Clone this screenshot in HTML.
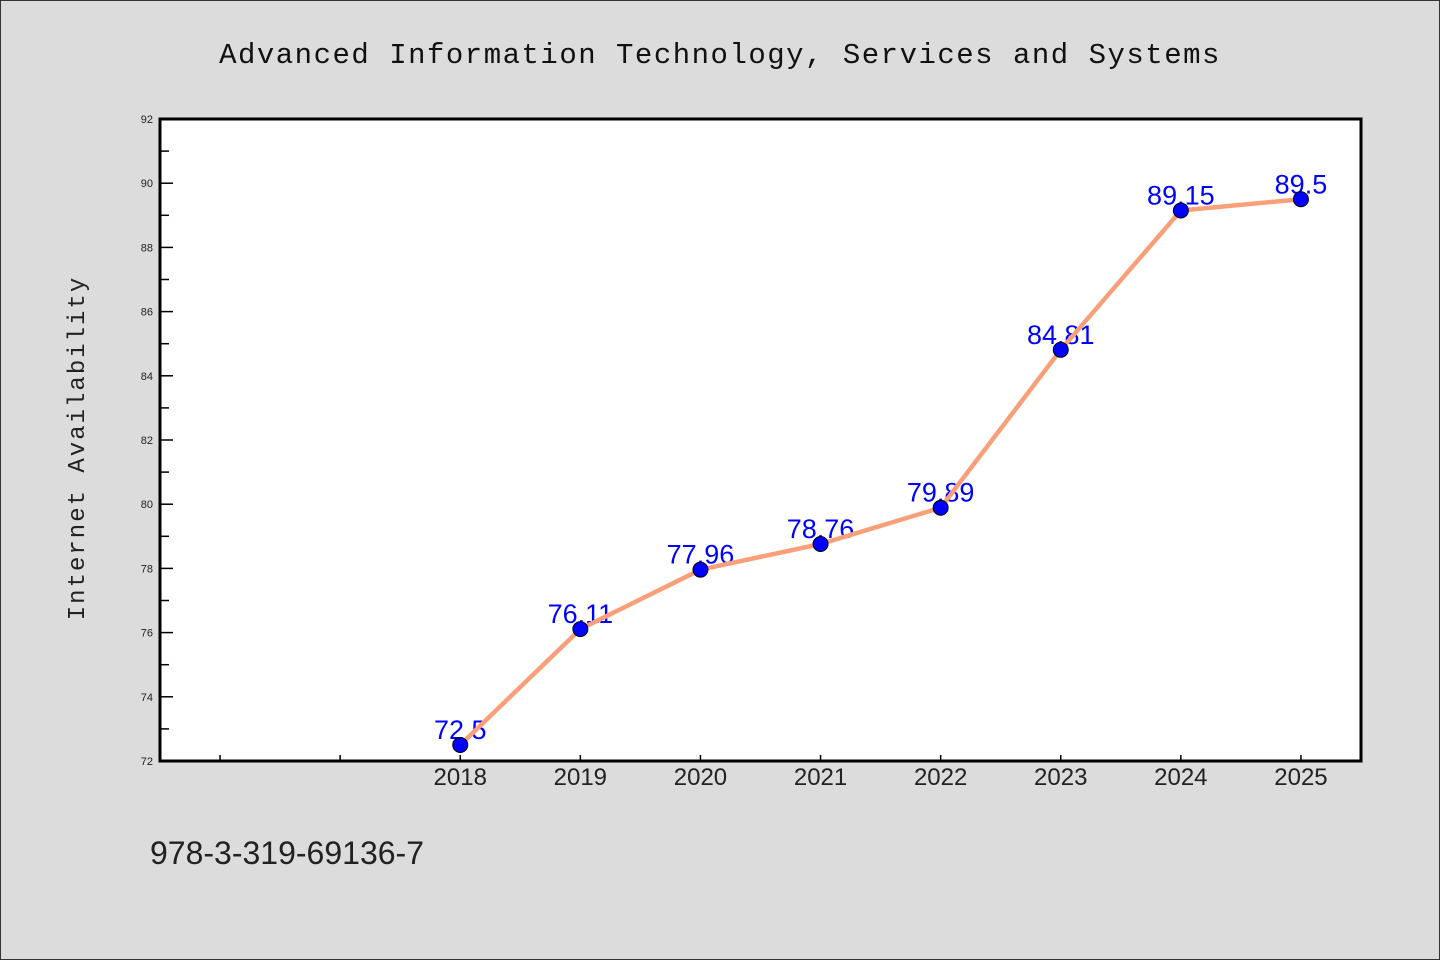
<!DOCTYPE html>
<html><head><meta charset="utf-8"><style>
html,body{margin:0;padding:0;background:#dcdcdc}
svg{display:block}
text{font-family:"WenQuanYi Zen Hei","Liberation Sans",sans-serif}
</style></head><body>
<svg id="chart" width="1440" height="960" xmlns="http://www.w3.org/2000/svg">
<rect x="0.5" y="0.5" width="1439" height="959" fill="#dcdcdc" stroke="#333"/>
<text x="720" y="63" text-anchor="middle" font-size="29" fill="#111" letter-spacing="1.5" style='font-family:"Liberation Mono",monospace'>Advanced Information Technology, Services and Systems</text>
<text transform="translate(84,448) rotate(-90)" text-anchor="middle" font-size="24" fill="#222" letter-spacing="2" style='font-family:"Liberation Mono",monospace'>Internet Availability</text>
<text x="150" y="864" font-size="32" fill="#222">978-3-319-69136-7</text>
<rect x="160" y="119" width="1201" height="642" fill="#fff"/>
<g id="axes"></g>
<g id="marks"></g>
<rect x="160" y="119" width="1201" height="642" fill="none" stroke="#000" stroke-width="3"/>
</svg>
<script>
const years = [2018, 2019, 2020, 2021, 2022, 2023, 2024, 2025];
const values = [72.5, 76.11, 77.96, 78.76, 79.89, 84.81, 89.15, 89.5];
const valueLabels = ["72.5", "76.11", "77.96", "78.76", "79.89", "84.81", "89.15", "89.5"];
const yTicks = [72, 74, 76, 78, 80, 82, 84, 86, 88, 90, 92];
const xMin = 2015.5, xMax = 2025.5, yMin = 72, yMax = 92;
const L = 160, R = 1361, T = 119, B = 761;
const NS = "http://www.w3.org/2000/svg";
function sx(v){return L + (v - xMin) / (xMax - xMin) * (R - L);}
function sy(v){return B - (v - yMin) / (yMax - yMin) * (B - T);}
function mk(tag, attrs, parent){const e=document.createElementNS(NS,tag);for(const k in attrs)e.setAttribute(k,attrs[k]);parent.appendChild(e);return e;}
const axes=document.getElementById('axes'), marks=document.getElementById('marks');
yTicks.forEach((t,i)=>{
  const y=sy(t);
  const tk=mk('line',{x1:L,x2:L+13,y1:y,y2:y,stroke:'#000','stroke-width':1.5},axes);
  
  
  const lb=mk('text',{x:L-7,y:y+4,'text-anchor':'end','font-size':11,fill:'#222'},axes);
  
  
  lb.textContent=t;
  if(i<yTicks.length-1){
    const ym=sy(t+1);
    const mn=mk('line',{x1:L,x2:L+9,y1:ym,y2:ym,stroke:'#000','stroke-width':1.5},axes);
    
    
  }
});
[2016,2017].concat(years).forEach(yr=>{
  const x=sx(yr);
  const tk=mk('line',{x1:x,x2:x,y1:B,y2:B-6,stroke:'#000','stroke-width':1.5},axes);
  
  
});
years.forEach(yr=>{
  const lb=mk('text',{x:sx(yr),y:B+24,'text-anchor':'middle','font-size':24,fill:'#222'},axes);
  
  
  lb.textContent=yr;
});
values.forEach((v,i)=>{
  const lb=mk('text',{x:sx(years[i]),y:sy(v)-6,'text-anchor':'middle','font-size':27,fill:'#0000ff'},marks);
  
  
  lb.textContent=valueLabels[i];
});
const pl=mk('polyline',{points:values.map((v,i)=>sx(years[i])+','+sy(v)).join(' '),fill:'none',stroke:'#f9a07a','stroke-width':4.5,'stroke-linejoin':'round'},marks);


values.forEach((v,i)=>{
  const c=mk('circle',{cx:sx(years[i]),cy:sy(v),r:7.5,fill:'#0000ff',stroke:'#000','stroke-width':1},marks);
  
  
});
</script>
</body></html>
